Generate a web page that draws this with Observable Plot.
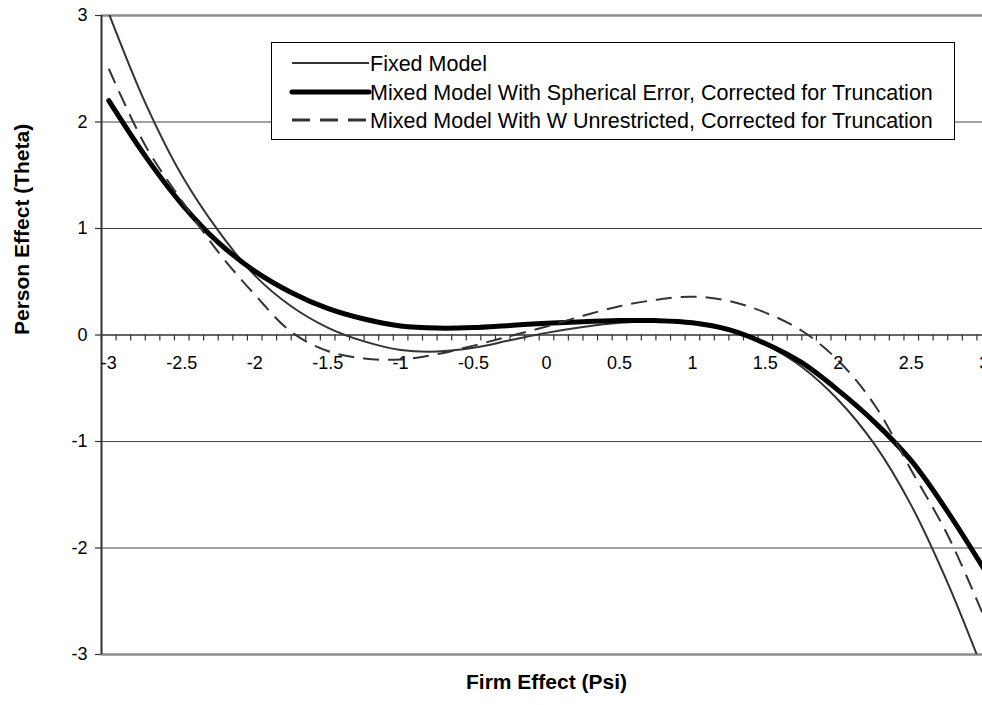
<!DOCTYPE html>
<html><head><meta charset="utf-8">
<script src="https://cdn.jsdelivr.net/npm/d3@7"></script>
<script src="https://cdn.jsdelivr.net/npm/@observablehq/plot@0.6"></script>
<style>
html,body{margin:0;padding:0;background:#fff;overflow:hidden;width:982px;height:705px}
#chart{position:relative;width:982px;height:705px;overflow:hidden;font-family:"Liberation Sans",Arial,sans-serif}
#chart svg{position:absolute;left:0;top:0;overflow:visible;max-width:none !important}
</style></head><body><div id="chart"></div>
<script>
// ---- data ----
const xValues        = [-3, -2.75, -2.5, -2.25, -2, -1.75, -1.5, -1.25, -1, -0.75, -0.5, -0.25, 0, 0.25, 0.5, 0.75, 1, 1.25, 1.5, 1.75, 2, 2.25, 2.5, 2.75, 3];
const fixedModel     = [3.02, 2.18, 1.5, 0.98, 0.56, 0.27, 0.07, -0.06, -0.14, -0.155, -0.12, -0.05, 0.02, 0.075, 0.115, 0.13, 0.11, 0.04, -0.09, -0.3, -0.61, -1.03, -1.6, -2.33, -3.18];
const mixedSpherical = [2.2, 1.68, 1.23, 0.87, 0.6, 0.4, 0.25, 0.15, 0.085, 0.065, 0.07, 0.09, 0.11, 0.125, 0.135, 0.135, 0.115, 0.05, -0.08, -0.26, -0.52, -0.82, -1.18, -1.66, -2.2];
const mixedW         = [2.5, 1.78, 1.26, 0.78, 0.38, 0.03, -0.15, -0.22, -0.23, -0.18, -0.1, -0.01, 0.08, 0.18, 0.27, 0.33, 0.36, 0.32, 0.21, 0.04, -0.24, -0.66, -1.27, -1.88, -2.65];
const seriesNames    = ["Fixed Model", "Mixed Model With Spherical Error, Corrected for Truncation", "Mixed Model With W Unrestricted, Corrected for Truncation"];
const xTickLabels    = [-3, -2.5, -2, -1.5, -1, -0.5, 0, 0.5, 1, 1.5, 2, 2.5, 3];
const yTickLabels    = [-3, -2, -1, 0, 1, 2, 3];
const xTitle = "Firm Effect (Psi)";
const yTitle = "Person Effect (Theta)";

// category-style axis: 61 categories of width 0.1, ticks on category edges
const xDomain = [-3.05, 3.05];
const yDomain = [-3, 3];
const categoryEdges = d3.range(62).map(k => +(xDomain[0] + 0.1 * k).toFixed(2));

const font = '"Liberation Sans", Arial, sans-serif';

const plot = Plot.plot({
  width: 991,
  height: 705,
  marginLeft: 101,
  marginRight: 0,
  marginTop: 15,
  marginBottom: 51,
  x: {domain: xDomain, axis: null},
  y: {domain: yDomain, axis: null},
  style: {fontFamily: font, background: "#fff", overflow: "visible", maxWidth: "none"},
  marks: [
    Plot.ruleY(yTickLabels.filter(v => v !== 0 && Math.abs(v) !== 3), {y: d => d, stroke: "#444", strokeWidth: 1.2}),
    Plot.ruleY(yTickLabels.filter(v => Math.abs(v) === 3), {y: d => d, stroke: "#8c8c8c", strokeWidth: 2.5}),
    Plot.ruleY([0], {y: d => d, stroke: "#333", strokeWidth: 1.5}),
    Plot.ruleX(categoryEdges, {x: d => d, y1: 0, y2: 0, insetBottom: -6, stroke: "#333", strokeWidth: 1.2}),
    Plot.ruleY(yTickLabels, {y: d => d, x1: xDomain[0], x2: xDomain[0], insetLeft: -6, stroke: "#333", strokeWidth: 1.2}),
    Plot.ruleX([xDomain[0]], {x: d => d, y1: yDomain[0], y2: yDomain[1], stroke: "#333", strokeWidth: 2}),
    Plot.line(xValues, {x: d => d, y: (d, i) => fixedModel[i], curve: "catmull-rom", stroke: "#333", strokeWidth: 2, clip: true}),
    Plot.line(xValues, {x: d => d, y: (d, i) => mixedSpherical[i], curve: "catmull-rom", stroke: "#000", strokeWidth: 5, clip: true}),
    Plot.line(xValues, {x: d => d, y: (d, i) => mixedW[i], curve: "catmull-rom", stroke: "#333", strokeWidth: 2, strokeDasharray: "16,9", strokeLinecap: "butt", clip: true}),
    Plot.text(xTickLabels, {x: d => d, y: 0, dy: 28, text: d => String(d), fontSize: 18, fill: "#000"}),
    Plot.text(yTickLabels, {x: xDomain[0], y: d => d, dx: -14, textAnchor: "end", text: d => String(d), fontSize: 18, fill: "#000"}),
    Plot.text([yTitle], {frameAnchor: "left", dx: -79, rotate: -90, text: d => d, fontWeight: "bold", fontSize: 21, fill: "#000"}),
    Plot.text([xTitle], {frameAnchor: "bottom", dy: 34, text: d => d, fontWeight: "bold", fontSize: 21, fill: "#000"})
  ]
});
document.getElementById("chart").appendChild(plot);

// legend box overlay
const legend = d3.select("#chart").append("svg")
  .attr("width", 684).attr("height", 98)
  .style("left", "271px").style("top", "42px");
legend.append("rect").attr("x", 0.5).attr("y", 0.5).attr("width", 683).attr("height", 97)
  .attr("fill", "#fff").attr("stroke", "#000").attr("stroke-width", 1);
const legendStyles = [
  {stroke: "#333", width: 2, dash: null},
  {stroke: "#000", width: 5, dash: null},
  {stroke: "#333", width: 3, dash: "18,10"}
];
const rowY = [21, 50, 78];
seriesNames.forEach((name, i) => {
  const s = legendStyles[i];
  const ln = legend.append("line").attr("x1", 21).attr("x2", 98).attr("y1", rowY[i]).attr("y2", rowY[i])
    .attr("stroke", s.stroke).attr("stroke-width", s.width).attr("stroke-linecap", i === 1 ? "round" : "butt");
  if (s.dash) ln.attr("stroke-dasharray", s.dash);
  legend.append("text").attr("x", 99).attr("y", rowY[i]).attr("dy", "0.35em")
    .attr("font-family", font).attr("font-size", 21.5).attr("fill", "#000").text(name);
});
</script></body></html>
